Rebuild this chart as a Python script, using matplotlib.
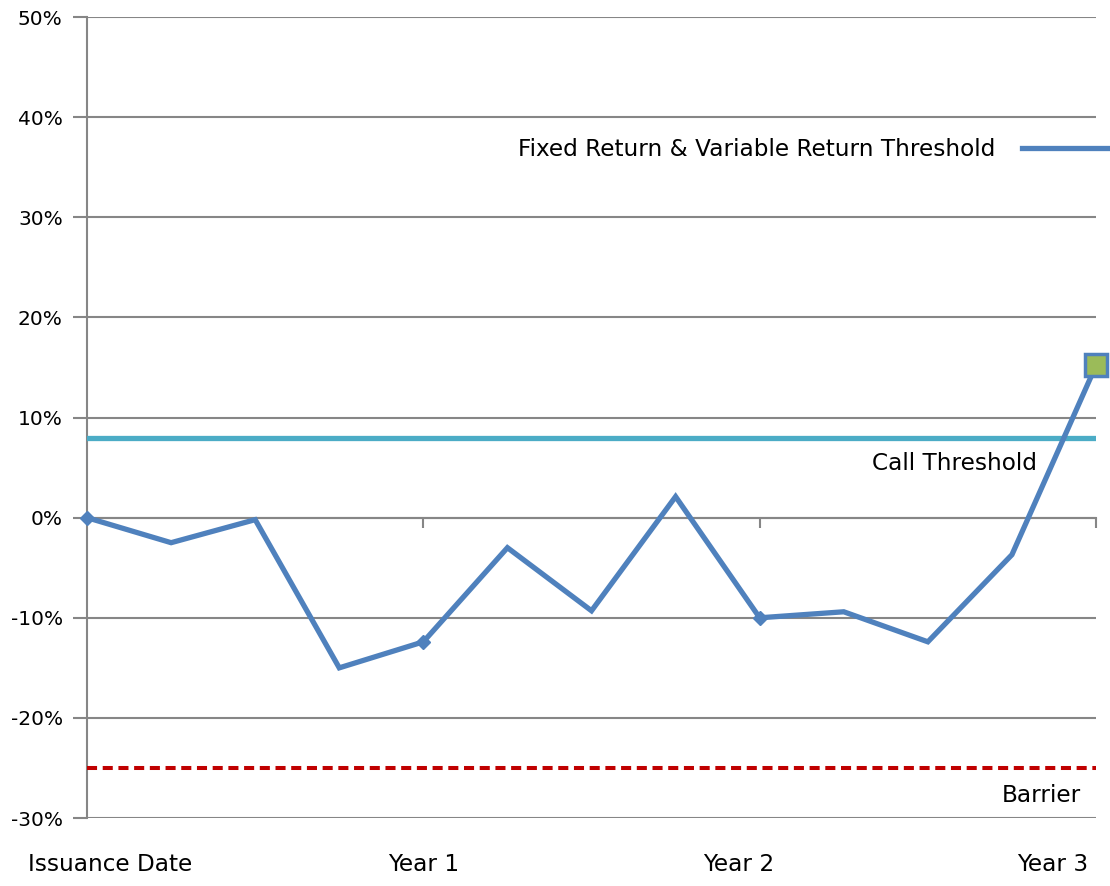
import matplotlib.pyplot as plt
from matplotlib.lines import Line2D
from matplotlib.ticker import FuncFormatter, MultipleLocator
import matplotlib.transforms as mtransforms

# quarterly observation dates, 0 = issuance
quarters = list(range(13))
perf = [0.0, -2.5, -0.2, -15.0, -12.4, -3.0, -9.3, 2.1, -10.0, -9.4, -12.4, -3.7, 15.2]
call_threshold = 8.0
barrier = -25.0
diamond_at = [0, 4, 8]
period_labels = ["Issuance Date", "Year 1", "Year 2", "Year 3"]
period_label_x = [0.27, 4.0, 7.75, 11.48]
year_ticks = [4, 8, 12]

blue = "#4F81BD"
teal = "#4BACC6"
red = "#C00000"
green = "#9BBB59"
grey = "#868686"

fig = plt.figure(figsize=(11.1, 8.86), dpi=100)
ax = fig.add_axes([0.0784, 0.0767, 0.9090, 0.9041])

ax.set_xlim(0, 12)
ax.set_ylim(-30, 50)
ax.yaxis.set_major_locator(MultipleLocator(10))
ax.yaxis.set_major_formatter(FuncFormatter(lambda v, p: f"{v:.0f}%"))
ax.grid(axis="y", color=grey, lw=1.5, zorder=0)
ax.tick_params(axis="y", length=10, width=1.5, color=grey, labelsize=14.5, pad=7.5)

for s in ["top", "right"]:
    ax.spines[s].set_visible(False)
ax.spines["left"].set_color(grey)
ax.spines["left"].set_linewidth(1.5)
ax.spines["bottom"].set_position(("data", 0))
ax.spines["bottom"].set_color(grey)
ax.spines["bottom"].set_linewidth(1.5)
ax.set_xticks(year_ticks)
ax.set_xticklabels([])
ax.tick_params(axis="x", direction="out", length=7, width=1.5, color=grey)

ax.axhline(call_threshold, color=teal, lw=3.8, zorder=3)
ax.axhline(barrier, color=red, lw=2.9, ls=(0, (2.5, 1.4)), zorder=3)

ax.plot(quarters, perf, color=blue, lw=3.8, zorder=4, solid_joinstyle="miter", clip_on=False)
ax.plot([quarters[i] for i in diamond_at], [perf[i] for i in diamond_at], ls="none",
        marker="D", ms=7, color=blue, zorder=5, clip_on=False)
ax.plot(quarters[-1], perf[-1], ls="none", marker="s", ms=16, mfc=green, mec=blue,
        mew=2.5, zorder=6, clip_on=False)

font = dict(fontsize=16.7, color="black")
ax.text(11.3, call_threshold - 2.6, "Call Threshold", ha="right", va="center", **font)
ax.text(11.82, barrier - 2.75, "Barrier", ha="right", va="center", **font)

trans = mtransforms.blended_transform_factory(ax.transData, ax.transAxes)
for lx, lab in zip(period_label_x, period_labels):
    ax.text(lx, -0.058, lab, transform=trans, ha="center", va="center", **font)

handle = Line2D([], [], color=blue, lw=3.8)
ax.legend([handle], ["Fixed Return & Variable Return Threshold"], loc="center right",
          bbox_to_anchor=(1.043, 0.834), frameon=False, markerfirst=False,
          handlelength=4.65, handletextpad=1.15, borderaxespad=0,
          prop=dict(size=16.7))

fig.savefig("out.png", dpi=100)
